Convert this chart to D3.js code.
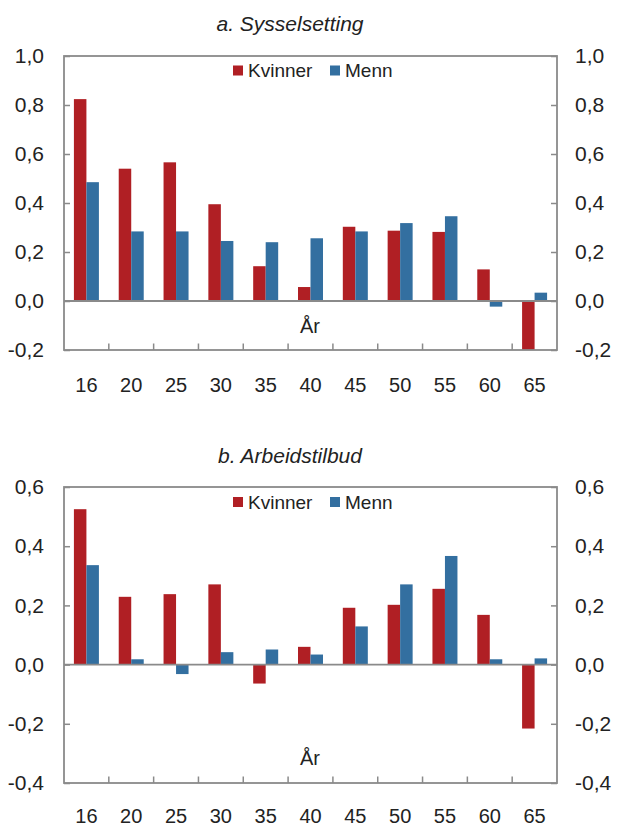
<!DOCTYPE html>
<html><head><meta charset="utf-8">
<script src="https://cdn.jsdelivr.net/npm/d3@7"></script>
<style>body{margin:0;background:#fff}svg{display:block}text{font-family:"Liberation Sans",Arial,sans-serif}</style>
</head><body>
<svg id="c" width="617" height="826"></svg>
<script>
const categories = ["16","20","25","30","35","40","45","50","55","60","65"];
const seriesNames = ["Kvinner","Menn"];
const sysKvinner = [0.824,0.54,0.566,0.395,0.142,0.057,0.303,0.287,0.282,0.129,-0.2];
const sysMenn    = [0.485,0.284,0.284,0.245,0.24,0.256,0.284,0.318,0.346,-0.023,0.034];
const arbKvinner = [0.525,0.229,0.238,0.271,-0.064,0.06,0.192,0.202,0.256,0.168,-0.216];
const arbMenn    = [0.336,0.018,-0.032,0.042,0.051,0.034,0.129,0.271,0.367,0.018,0.021];
const ticksA = [-0.2,0,0.2,0.4,0.6,0.8,1.0];
const ticksB = [-0.4,-0.2,0,0.2,0.4,0.6];
const colors = ["#B01F24","#336FA0"];

const svg = d3.select("#c");
const fmt = v => d3.format(".1f")(v).replace(".", ",").replace("−","-");
const FONT = "'Liberation Sans',Arial,sans-serif";

function panel(cfg){
  const {title, k, m, ticks, top, bottom, titleY, legendY, arY, labelY} = cfg;
  const left = 64, right = 557;
  const g = svg.append("g");
  const y = d3.scaleLinear().domain([ticks[0], ticks[ticks.length-1]]).range([bottom, top]);
  const x0 = d3.scaleBand().domain(categories).range([left, right]).padding(0);
  const bw = 12.5;
  const x1 = d3.scaleBand().domain(seriesNames).range([x0.bandwidth()/2 - bw, x0.bandwidth()/2 + bw]);

  g.append("text").attr("x", 290).attr("y", titleY).attr("text-anchor","middle")
    .attr("font-size", 21).attr("font-style","italic").attr("fill","#222").text(title);

  const data = categories.map((c,i)=>({c, vals:[k[i], m[i]]}));
  const cg = g.selectAll("g.cat").data(data).join("g").attr("transform", d=>`translate(${x0(d.c)},0)`);
  cg.selectAll("rect").data(d=>d.vals.map((v,j)=>({v, s:seriesNames[j], j}))).join("rect")
    .attr("x", d=>x1(d.s)).attr("width", x1.bandwidth())
    .attr("y", d=>y(Math.max(0,d.v))).attr("height", d=>Math.abs(y(d.v)-y(0)))
    .attr("fill", d=>colors[d.j]);

  g.append("line").attr("x1", left).attr("x2", right).attr("y1", y(0)).attr("y2", y(0))
    .attr("stroke","#8a8a8a").attr("stroke-width",1.8);

  g.append("rect").attr("x", left).attr("y", top).attr("width", right-left).attr("height", bottom-top)
    .attr("fill","none").attr("stroke","#8a8a8a").attr("stroke-width",1.8);

  const la = g.append("g").attr("transform",`translate(${left},0)`)
    .call(d3.axisLeft(y).tickValues(ticks).tickFormat(fmt).tickSize(-6).tickPadding(20));
  const ra = g.append("g").attr("transform",`translate(${right},0)`)
    .call(d3.axisRight(y).tickValues(ticks).tickFormat(fmt).tickSize(-6).tickPadding(18));
  [la, ra].forEach(a=>{
    a.select(".domain").remove();
    a.selectAll("line").attr("stroke","#8a8a8a").attr("stroke-width",1.5);
    a.selectAll("text").attr("font-size",21).attr("fill","#222").attr("font-family",FONT);
  });

  const xa = g.append("g").attr("transform",`translate(0,${bottom})`)
    .call(d3.axisBottom(x0).tickSize(0).tickPadding(0));
  xa.select(".domain").remove();
  xa.selectAll("text").attr("font-size",20).attr("fill","#222").attr("dy",null)
    .attr("y", labelY - bottom).attr("font-family",FONT);
  g.selectAll("line.bt").data(categories.slice(1)).join("line").attr("class","bt")
    .attr("x1", d=>x0(d)).attr("x2", d=>x0(d)).attr("y1", bottom).attr("y2", bottom-6.5)
    .attr("stroke","#8a8a8a").attr("stroke-width",1.5);

  g.append("text").attr("x", 310).attr("y", arY).attr("text-anchor","middle").attr("dy","0.35em")
    .attr("font-size",20).attr("fill","#222").text("År");

  const lg = g.append("g").attr("transform",`translate(0,${legendY})`);
  const lx = [233, 330];
  seriesNames.forEach((s,j)=>{
    lg.append("rect").attr("x", lx[j]).attr("y", -5).attr("width",10).attr("height",10).attr("fill",colors[j]);
    lg.append("text").attr("x", lx[j]+15).attr("y", 0).attr("dy","0.35em").attr("font-size",19).attr("fill","#222").text(s);
  });
}

panel({title:"a. Sysselsetting", k:sysKvinner, m:sysMenn, ticks:ticksA, top:56, bottom:350, titleY:31, legendY:70.5, arY:326, labelY:391.5});
panel({title:"b. Arbeidstilbud", k:arbKvinner, m:arbMenn, ticks:ticksB, top:487, bottom:783, titleY:463, legendY:502, arY:758, labelY:823});
</script>
</body></html>
